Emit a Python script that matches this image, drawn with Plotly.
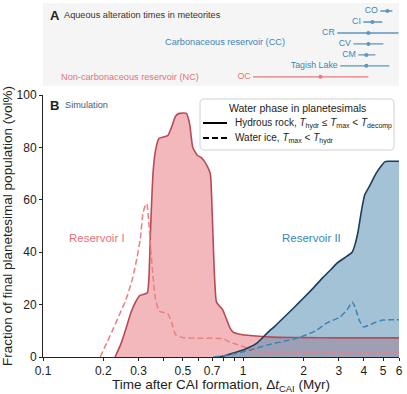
import numpy as np
import plotly.graph_objects as go

# ---- panel A: aqueous alteration ages (Myr after CAI) ----
met_names = ["CO", "CI", "CR", "CV", "CM", "Tagish Lake", "OC"]
met_best = [5.25, 4.42, 4.22, 4.22, 4.12, 4.12, 2.43]
met_lo = [4.84, 3.98, 2.95, 3.55, 3.76, 3.05, 1.12]
met_hi = [5.56, 4.95, 5.96, 5.01, 4.57, 5.37, 4.22]
met_row = [0, 1, 2, 3, 4, 5, 6]
met_res = ["CC", "CC", "CC", "CC", "CC", "CC", "NC"]

# ---- panel B: simulated populations (vol%) ----
t_res1_rock = [0.229, 0.245, 0.26, 0.275, 0.29, 0.305, 0.32, 0.332, 0.338, 0.345, 0.355,
               0.365, 0.38, 0.40, 0.42, 0.44, 0.46, 0.48, 0.52, 0.54, 0.56, 0.59, 0.62,
               0.66, 0.685, 0.70, 0.715, 0.735, 0.76, 0.79, 0.82, 0.86, 0.89, 0.95, 1.05,
               1.4, 2.0, 3.0, 4.0, 6.0]
v_res1_rock = [0, 5, 11, 17, 21, 23.5, 24, 24.5, 30, 50, 71,
               79, 83.5, 84, 84.5, 88, 92, 93, 93, 89, 80, 77, 76,
               73, 70, 55, 35, 21, 19.5, 18, 15, 11, 9.5, 8.8, 8.3,
               7.6, 7.4, 7.3, 7.3, 7.3]

t_res1_ice = [0.193, 0.21, 0.225, 0.243, 0.26, 0.28, 0.295, 0.306, 0.316, 0.325, 0.33,
              0.337, 0.345, 0.355, 0.365, 0.38, 0.40, 0.42, 0.44, 0.46, 0.50, 0.59,
              0.70, 0.79, 0.86, 0.93, 1.05, 1.22, 1.32, 1.6, 2.0, 3.0, 4.0, 6.0]
v_res1_ice = [0, 6, 11, 16.8, 22, 30, 38, 45, 55, 58, 58.5,
              52, 42, 30, 22, 17.5, 17, 16.5, 13, 8.5, 7.4, 7.2,
              7.2, 7.0, 5.7, 4.8, 3.4, 1.9, 1.6, 1.5, 1.5, 1.5, 1.5, 1.5]

t_res2_rock = [0.74, 0.8, 0.89, 1.0, 1.08, 1.17, 1.32, 1.45, 1.59, 1.8, 2.0, 2.25, 2.51,
               2.75, 2.95, 3.2, 3.5, 3.62, 3.75, 3.9, 4.05, 4.3, 4.6, 4.9, 5.1, 5.3, 6.0]
v_res2_rock = [0, 0.4, 1.5, 2.7, 3.8, 5.3, 9.2, 12, 15, 19, 22.5, 26.5, 30.5,
               33.5, 35.9, 37.8, 40, 43, 48, 56, 62, 65.6, 70, 73, 74.5, 74.7, 74.7]

t_res2_ice = [0.71, 0.8, 0.9, 1.0, 1.15, 1.32, 1.6, 1.93, 2.3, 2.62, 3.05, 3.3, 3.5,
              3.62, 3.8, 3.98, 4.2, 4.5, 5.0, 5.5, 6.0]
v_res2_ice = [0, 0.5, 1.2, 2, 3.2, 4.6, 6, 7.6, 10, 13, 15.3, 18, 21,
              19, 14, 11.5, 12, 13, 14.1, 14.2, 14.2]

x_tickvals = [0.1, 0.2, 0.3, 0.4, 0.5, 0.6, 0.7, 0.8, 0.9, 1, 2, 3, 4, 5, 6]
x_ticktext = ["0.1", "0.2", "0.3", "", "0.5", "", "0.7", "", "", "1", "2", "3", "4", "5", "6"]

FONT = "Liberation Sans, Arial, sans-serif"
PINK_FILL = "#f3b8bc"
RED_LINE = "#b84a55"
RED_DASH = "#ec7f84"
RED_TEXT = "#e8717a"
BLUE_FILL = "rgba(71,133,173,0.5)"
NAVY_LINE = "#1f3d58"
BLUE_DASH = "#3d85b5"
BLUE_TEXT = "#3d85b5"
DASH = "6px,3px"

# pixel -> paper helpers (plot area: x 43..399, y 3..357)
def px(x):
    return (x - 43) / 356.0

def py(y):
    return (357 - y) / 354.0

fig = go.Figure()

# fills first
fig.add_trace(go.Scatter(x=t_res1_rock, y=v_res1_rock, fill="tozeroy", fillcolor=PINK_FILL,
                         mode="lines", line=dict(width=0, shape="spline", smoothing=0.5),
                         showlegend=False, hoverinfo="skip"))
fig.add_trace(go.Scatter(x=t_res2_rock, y=v_res2_rock, fill="tozeroy", fillcolor=BLUE_FILL,
                         mode="lines", line=dict(width=0, shape="spline", smoothing=0.5),
                         showlegend=False, hoverinfo="skip"))

# lines on top
fig.add_trace(go.Scatter(x=t_res1_rock, y=v_res1_rock, mode="lines", name="Reservoir I rock",
                         line=dict(color=RED_LINE, width=1.6, shape="spline", smoothing=0.5),
                         showlegend=False))
fig.add_trace(go.Scatter(x=t_res1_ice, y=v_res1_ice, mode="lines", name="Reservoir I ice",
                         line=dict(color=RED_DASH, width=1.5, dash=DASH, shape="spline", smoothing=0.5),
                         showlegend=False))
fig.add_trace(go.Scatter(x=t_res2_rock, y=v_res2_rock, mode="lines", name="Reservoir II rock",
                         line=dict(color=NAVY_LINE, width=1.6, shape="spline", smoothing=0.5),
                         showlegend=False))
fig.add_trace(go.Scatter(x=t_res2_ice, y=v_res2_ice, mode="lines", name="Reservoir II ice",
                         line=dict(color=BLUE_DASH, width=1.5, dash=DASH, shape="spline", smoothing=0.5),
                         showlegend=False))

# panel A: ranges with best estimates
for res, col, tcol in [("CC", "#5b95c2", BLUE_TEXT), ("NC", "#e8797f", RED_TEXT)]:
    idx = [i for i, r in enumerate(met_res) if r == res]
    best = np.array([met_best[i] for i in idx])
    lo = np.array([met_lo[i] for i in idx])
    hi = np.array([met_hi[i] for i in idx])
    rows = [met_row[i] for i in idx]
    fig.add_trace(go.Scatter(
        x=best, y=rows, xaxis="x2", yaxis="y2", mode="markers",
        marker=dict(color=col, size=4),
        error_x=dict(type="data", symmetric=False, array=hi - best, arrayminus=best - lo,
                     color=col, thickness=1.4, width=0),
        showlegend=False))
    fig.add_trace(go.Scatter(
        x=lo, y=rows, xaxis="x2", yaxis="y2", mode="text",
        text=[met_names[i] + " " for i in idx], textposition="middle left",
        textfont=dict(family=FONT, size=8.8, color=tcol), showlegend=False))

# grey box behind panel A
fig.add_shape(type="rect", xref="x2 domain", yref="y2 domain", x0=0, x1=1, y0=0, y1=1,
              fillcolor="#f5f5f5", line=dict(width=0), layer="below")

# legend box (rounded)
x0, x1, y0, y1 = px(200), px(394), py(150), py(99)
r = 0.012
path = (f"M {x0+r},{y0} L {x1-r},{y0} Q {x1},{y0} {x1},{y0+r} L {x1},{y1-r} "
        f"Q {x1},{y1} {x1-r},{y1} L {x0+r},{y1} Q {x0},{y1} {x0},{y1-r} "
        f"L {x0},{y0+r} Q {x0},{y0} {x0+r},{y0} Z")
fig.add_shape(type="path", xref="paper", yref="paper", path=path,
              fillcolor="white", line=dict(color="#d0d0d0", width=1))
fig.add_shape(type="line", xref="paper", yref="paper", x0=px(203), x1=px(227),
              y0=py(123), y1=py(123), line=dict(color="black", width=2))
fig.add_shape(type="line", xref="paper", yref="paper", x0=px(203), x1=px(227),
              y0=py(138), y1=py(138), line=dict(color="black", width=2, dash=DASH))

ann = [
    dict(x=px(48), y=py(15), text="<b>A</b>", font=dict(size=13, color="#222")),
    dict(x=px(62), y=py(15), text="Aqueous alteration times in meteorites",
         font=dict(size=9.2, color="#333")),
    dict(x=px(225), y=py(42), text="Carbonaceous reservoir (CC)", xanchor="center",
         font=dict(size=9.2, color=BLUE_TEXT)),
    dict(x=px(130), y=py(77), text="Non-carbonaceous reservoir (NC)", xanchor="center",
         font=dict(size=9.2, color=RED_TEXT)),
    dict(x=px(48), y=py(105), text="<b>B</b>", font=dict(size=13, color="#222")),
    dict(x=px(63), y=py(105), text="Simulation", font=dict(size=9.2, color="#4d5b6b")),
    dict(x=px(97), y=py(238), text="Reservoir I", xanchor="center",
         font=dict(size=11.5, color=RED_TEXT)),
    dict(x=px(311), y=py(238), text="Reservoir II", xanchor="center",
         font=dict(size=11.5, color=BLUE_TEXT)),
    dict(x=px(297), y=py(108), text="Water phase in planetesimals", xanchor="center",
         font=dict(size=10.5, color="#222")),
    dict(x=px(233), y=py(123),
         text="Hydrous rock, <i>T</i><sub>hydr</sub> ≤ <i>T</i><sub>max</sub> &lt; <i>T</i><sub>decomp</sub>",
         font=dict(size=10, color="#222")),
    dict(x=px(233), y=py(138),
         text="Water ice, <i>T</i><sub>max</sub> &lt; <i>T</i><sub>hydr</sub>",
         font=dict(size=10, color="#222")),
]
for a in ann:
    a.setdefault("xanchor", "left")
    a.update(xref="paper", yref="paper", yanchor="middle", showarrow=False)
    a["font"]["family"] = FONT
    fig.add_annotation(**a)

axis_style = dict(showline=True, linecolor="#222", linewidth=1, ticks="outside", ticklen=3,
                  tickcolor="#222", showgrid=False, zeroline=False,
                  tickfont=dict(family=FONT, size=12, color="#222"))

fig.update_layout(
    width=407, height=394,
    margin=dict(l=43, r=8, t=3, b=37),
    paper_bgcolor="white", plot_bgcolor="white",
    font=dict(family=FONT),
    xaxis=dict(type="log", range=[-1, np.log10(6)], domain=[0, 1], anchor="y",
               tickvals=x_tickvals, ticktext=x_ticktext, automargin=False,
               title=dict(text="Time after CAI formation, Δ<i>t</i><sub>CAI</sub> (Myr)",
                          font=dict(family=FONT, size=13.5, color="#222"), standoff=2),
               **axis_style),
    yaxis=dict(range=[0, 100], domain=[0, 0.74], anchor="x",
               tickvals=[0, 20, 40, 60, 80, 100], automargin=False,
               title=dict(text="Fraction of final planetesimal population (vol%)",
                          font=dict(family=FONT, size=13.5, color="#222"), standoff=2),
               **axis_style),
    xaxis2=dict(type="log", range=[-1, np.log10(6)], domain=[0, 1], anchor="y2", visible=False),
    yaxis2=dict(range=[6.82, -0.73], domain=[0.766, 1], anchor="x2", visible=False),
)

fig.write_html("out.html", config={"displayModeBar": False},
               post_script="document.body.style.margin='0';")
